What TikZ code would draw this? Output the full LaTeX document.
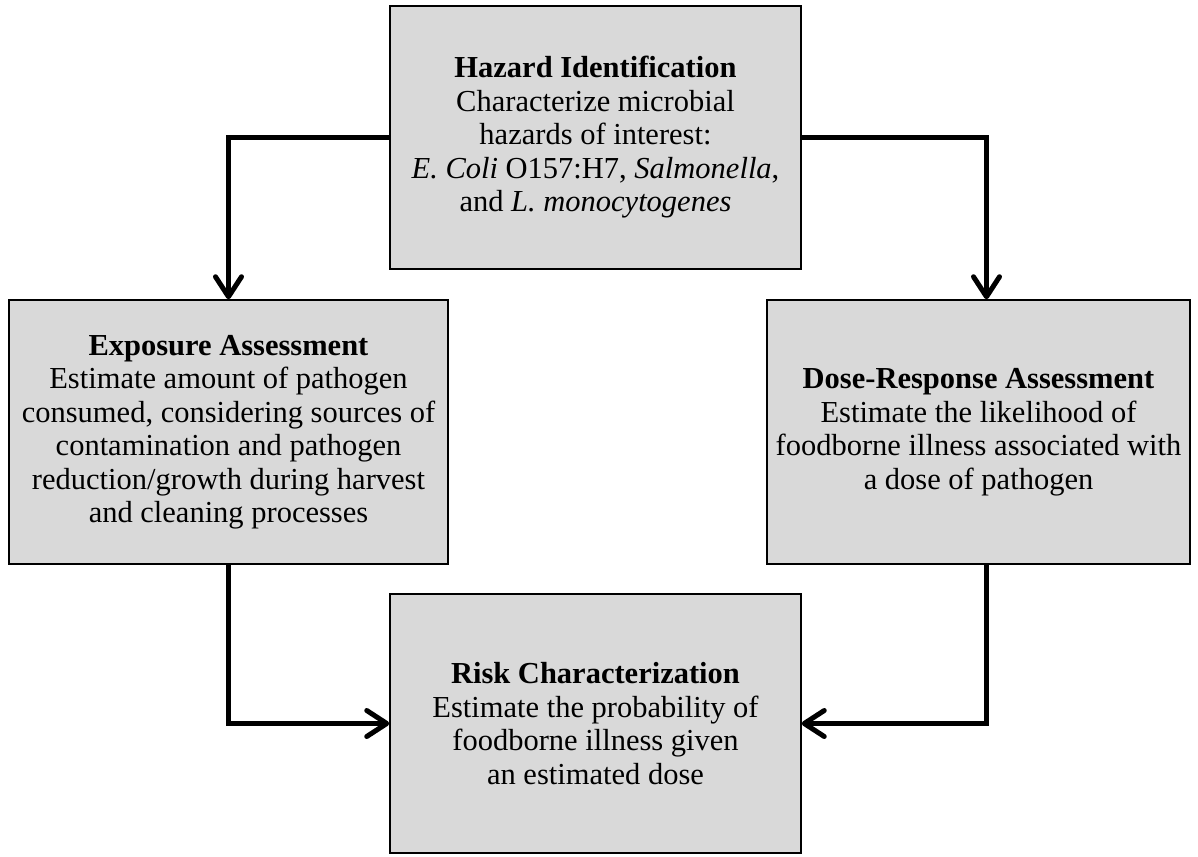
\documentclass[tikz,border=0pt]{standalone}
\usepackage{fontspec}
\setmainfont{Liberation Serif}
\usetikzlibrary{arrows.meta}
\definecolor{boxgray}{HTML}{D9D9D9}
\begin{document}
\begin{tikzpicture}[x=1pt,y=-1pt,
  stage/.style={draw=black, line width=1.5pt, fill=boxgray, inner sep=0pt,
    align=center, font=\fontsize{30.5}{33.5}\selectfont},
  flow/.style={line width=5pt, -{Straight Barb[length=20pt,width=26pt,round]}}]
\useasboundingbox (0,0) rectangle (1198,856);

% the four stages of the assessment
\node[stage, minimum width=411pt, minimum height=263pt] (haz) at (595.5,137.5)
  {\textbf{Hazard Identification}\\
   Characterize microbial\\
   hazards of interest:\\
   \textit{E. Coli} O157:H7, \textit{Salmonella},\\
   and \textit{L. monocytogenes}};
\node[stage, minimum width=439pt, minimum height=264pt] (exp) at (228.5,432)
  {\textbf{Exposure Assessment}\\
   Estimate amount of pathogen\\
   consumed, considering sources of\\
   contamination and pathogen\\
   reduction/growth during harvest\\
   and cleaning processes};
\node[stage, minimum width=423pt, minimum height=264pt] (dose) at (978.5,432)
  {\textbf{Dose-Response Assessment}\\
   Estimate the likelihood of\\
   foodborne illness associated with\\
   a dose of pathogen};
\node[stage, minimum width=411pt, minimum height=259pt] (risk) at (595.5,723.5)
  {\textbf{Risk Characterization}\\
   Estimate the probability of\\
   foodborne illness given\\
   an estimated dose};

% flow between the stages
\draw[flow] (haz.west) -| (exp.north);
\draw[flow] (haz.east) -| ([xshift=8pt]dose.north);
\draw[flow] (exp.south) |- (risk.west);
\draw[flow] ([xshift=8pt]dose.south) |- (risk.east);
\end{tikzpicture}
\end{document}
